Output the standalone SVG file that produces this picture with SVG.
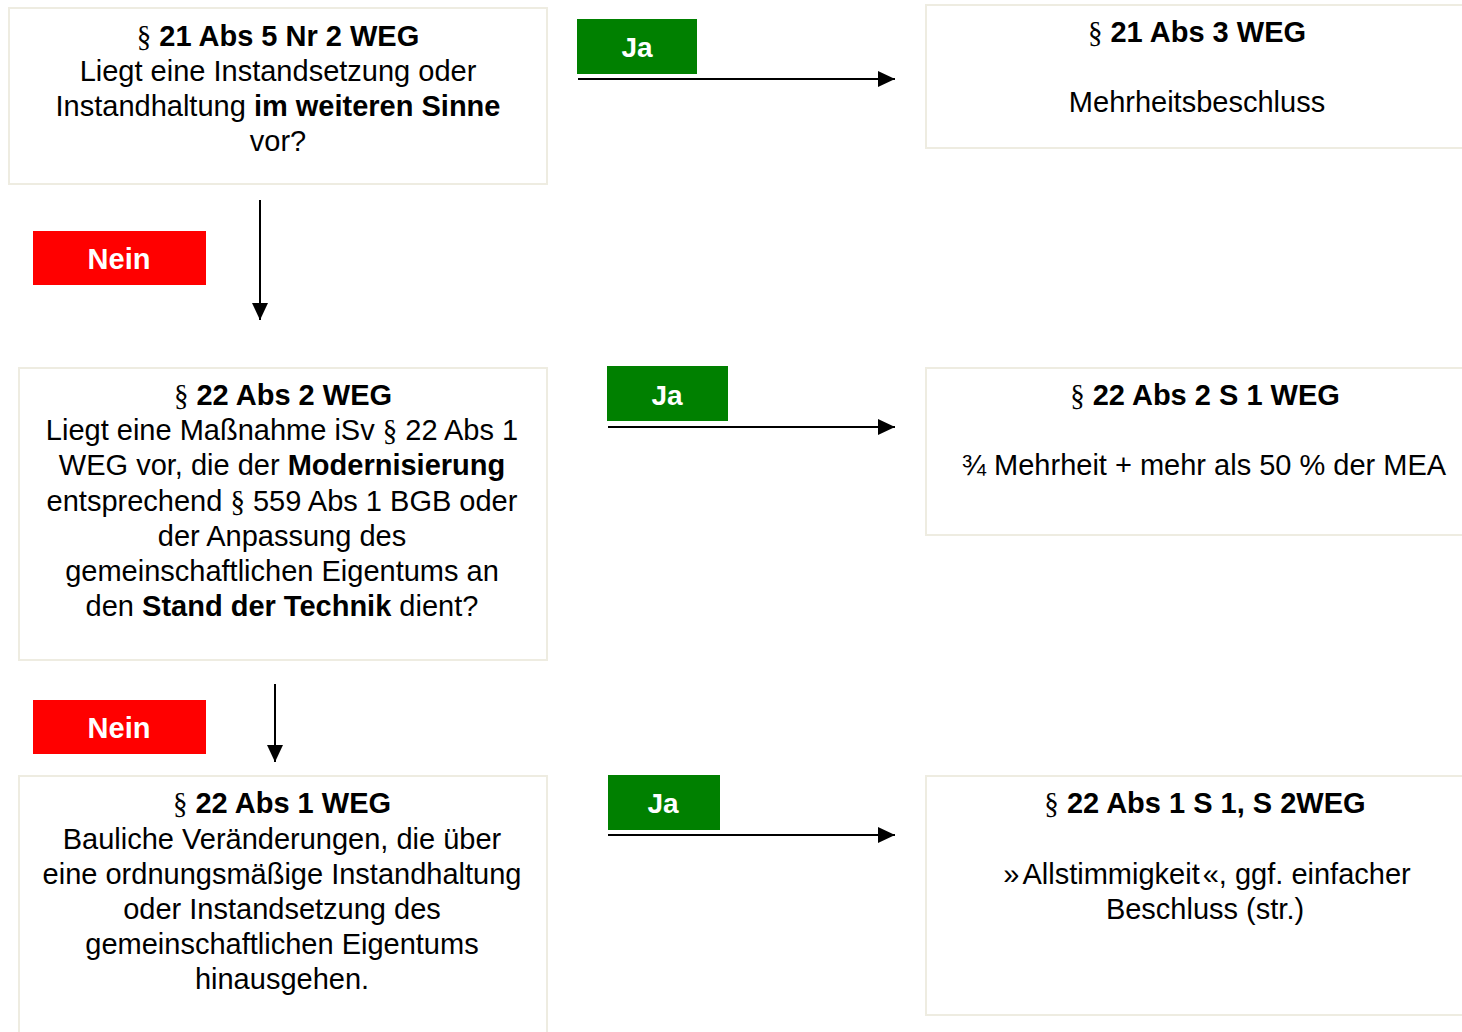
<svg xmlns="http://www.w3.org/2000/svg" width="1462" height="1032" viewBox="0 0 1462 1032">
<defs>
<style>
.box{fill:#fff;stroke:#EEECE1;stroke-width:2}
.t{font-family:"Liberation Sans",Arial,sans-serif;font-size:29px;fill:#000;text-anchor:middle}
.b{font-weight:bold}
.s{font-family:"Liberation Serif","Times New Roman",serif;font-weight:normal}
.lbl{font-family:"Liberation Sans",Arial,sans-serif;font-weight:bold;fill:#fff;text-anchor:middle}
.ja{fill:#008000}
.nein{fill:#FF0000}
.c{stroke:#000;stroke-width:2;fill:none;marker-end:url(#ah)}
</style>
<marker id="ah" markerUnits="userSpaceOnUse" markerWidth="17" markerHeight="16" refX="17" refY="8" orient="auto">
<path d="M0,0 L17,8 L0,16 z" fill="#000"/>
</marker>
</defs>
<rect width="1462" height="1032" fill="#fff"/>

<g id="q1">
<rect class="box" x="9" y="8" width="538" height="176"/>
<text class="t" x="278" y="46"><tspan class="s">§</tspan><tspan class="b"> 21 Abs 5 Nr 2 WEG</tspan></text>
<text class="t" x="278" y="81">Liegt eine Instandsetzung oder</text>
<text class="t" x="278" y="116">Instandhaltung <tspan class="b">im weiteren Sinne</tspan></text>
<text class="t" x="278" y="151">vor?</text>
</g>

<g id="r1">
<rect class="box" x="926" y="5" width="560" height="143"/>
<text class="t" x="1197" y="42"><tspan class="s">§</tspan><tspan class="b"> 21 Abs 3 WEG</tspan></text>
<text class="t" x="1197" y="112">Mehrheitsbeschluss</text>
</g>

<g id="q2">
<rect class="box" x="19" y="368" width="528" height="292"/>
<text class="t" x="283" y="405"><tspan class="s">§</tspan><tspan class="b"> 22 Abs 2 WEG</tspan></text>
<text class="t" x="282" y="440">Liegt eine Maßnahme iSv <tspan class="s">§</tspan> 22 Abs 1</text>
<text class="t" x="282" y="475">WEG vor, die der <tspan class="b">Modernisierung</tspan></text>
<text class="t" x="282" y="511">entsprechend <tspan class="s">§</tspan> 559 Abs 1 BGB oder</text>
<text class="t" x="282" y="546">der Anpassung des</text>
<text class="t" x="282" y="581">gemeinschaftlichen Eigentums an</text>
<text class="t" x="282" y="616">den <tspan class="b">Stand der Technik</tspan> dient?</text>
</g>

<g id="r2">
<rect class="box" x="926" y="368" width="560" height="167"/>
<text class="t" x="1205" y="405"><tspan class="s">§</tspan><tspan class="b"> 22 Abs 2 S 1 WEG</tspan></text>
<text class="t" x="1204" y="475">¾ Mehrheit + mehr als 50 % der MEA</text>
</g>

<g id="q3">
<rect class="box" x="19" y="776" width="528" height="300"/>
<text class="t" x="282" y="813"><tspan class="s">§</tspan><tspan class="b"> 22 Abs 1 WEG</tspan></text>
<text class="t" x="282" y="849">Bauliche Veränderungen, die über</text>
<text class="t" x="282" y="884">eine ordnungsmäßige Instandhaltung</text>
<text class="t" x="282" y="919">oder Instandsetzung des</text>
<text class="t" x="282" y="954">gemeinschaftlichen Eigentums</text>
<text class="t" x="282" y="989">hinausgehen.</text>
</g>

<g id="r3">
<rect class="box" x="926" y="776" width="560" height="239"/>
<text class="t" x="1205" y="813"><tspan class="s">§</tspan><tspan class="b"> 22 Abs 1 S 1, S 2WEG</tspan></text>
<text class="t" x="1207" y="884">»<tspan dx="3">Allstimmigkeit</tspan><tspan dx="3">«</tspan>, ggf. einfacher</text>
<text class="t" x="1205" y="919">Beschluss (str.)</text>
</g>

<g id="ja1"><rect class="ja" x="577" y="19" width="120" height="55"/><text class="lbl" x="637" y="57" font-size="28">Ja</text></g>
<g id="ja2"><rect class="ja" x="607" y="366" width="121" height="55"/><text class="lbl" x="667" y="405" font-size="28">Ja</text></g>
<g id="ja3"><rect class="ja" x="608" y="775" width="112" height="55"/><text class="lbl" x="663" y="813" font-size="28">Ja</text></g>
<g id="nein1"><rect class="nein" x="33" y="231" width="173" height="54"/><text class="lbl" x="119" y="269" font-size="29">Nein</text></g>
<g id="nein2"><rect class="nein" x="33" y="700" width="173" height="54"/><text class="lbl" x="119" y="738" font-size="29">Nein</text></g>

<g id="connectors">
<line class="c" x1="578" y1="79" x2="895" y2="79"/>
<line class="c" x1="608" y1="427" x2="895" y2="427"/>
<line class="c" x1="608" y1="835" x2="895" y2="835"/>
<line class="c" x1="260" y1="200" x2="260" y2="320"/>
<line class="c" x1="275" y1="684" x2="275" y2="762"/>
</g>
</svg>
